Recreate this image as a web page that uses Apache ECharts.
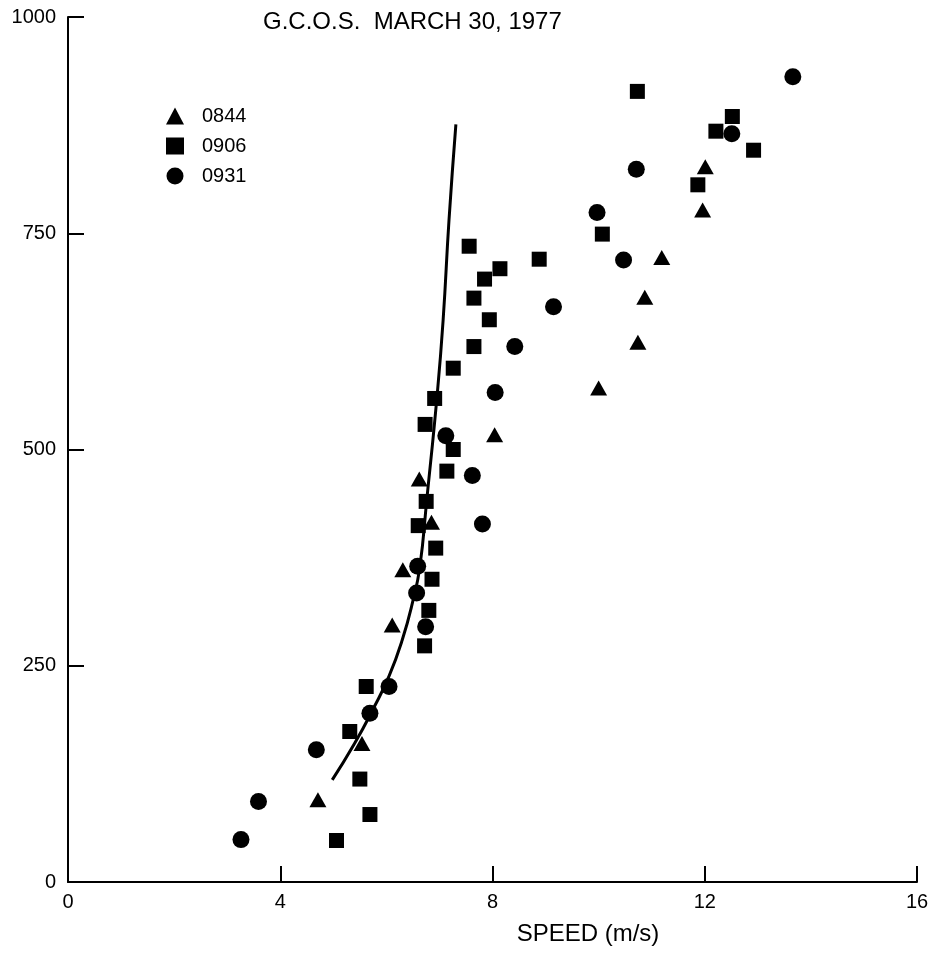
<!DOCTYPE html>
<html><head><meta charset="utf-8">
<script src="https://cdn.jsdelivr.net/npm/echarts@6/dist/echarts.min.js"></script>
<style>html,body{margin:0;padding:0;background:#fff}#c{width:932px;height:954px}</style>
</head><body><div id="c"></div>
<script>
const titleText = 'G.C.O.S.  MARCH 30, 1977';
const xAxisName = 'SPEED (m/s)';
const seriesNames = ['0844', '0906', '0931'];
const xTicks = [0, 4, 8, 12, 16];
const yTicks = [0, 250, 500, 750, 1000];

// 0844 (triangles): [speed m/s, height]
const s0844 = [[4.71,95],[5.54,160],[6.11,297],[6.31,361],[6.62,466],[6.85,416],[8.04,517],
  [10.0,571],[10.74,624],[10.87,676],[11.19,722],[11.96,777],[12.01,827]];
// 0906 (squares)
const s0906 = [[5.06,48],[5.50,119],[5.69,78],[5.31,174],[5.62,226],[6.72,273],[6.80,314],
  [6.86,350],[6.93,386],[6.60,412],[6.75,440],[7.14,475],[7.26,500],[6.73,529],[6.91,559],
  [7.26,594],[7.65,619],[7.94,650],[7.65,675],[7.85,697],[8.14,709],[7.56,735],[8.88,720],
  [10.07,749],[11.87,806],[10.73,914],[12.21,868],[12.52,885],[12.92,846]];
// 0931 (circles)
const s0931 = [[3.26,49],[3.59,93],[4.68,153],[5.69,195],[6.05,226],[6.74,295],[6.57,334],
  [6.59,365],[7.81,414],[7.62,470],[7.12,516],[8.05,566],[8.42,619],[9.15,665],[10.47,719],
  [9.97,774],[10.71,824],[12.51,865],[13.66,931]];
// fitted profile curve
const fitCurve = [[4.98,118],[5.4,160],[5.75,200],[6.05,238],[6.3,280],[6.5,325],[6.63,364],
  [6.76,441],[6.96,565],[7.07,650],[7.18,765],[7.31,876]];

const FONT = "'Liberation Sans', Arial, sans-serif";
const chart = echarts.init(document.getElementById('c'), null, {renderer:'canvas'});
chart.setOption({
  backgroundColor: '#fff',
  animation: false,
  title: {
    text: titleText, left: 258, top: 5,
    textStyle: {fontFamily: FONT, fontSize: 24, fontWeight: 'normal', color: '#000'}
  },
  legend: {
    orient: 'vertical', left: 161, top: 101,
    itemWidth: 18, itemHeight: 17, itemGap: 10,
    textStyle: {fontFamily: FONT, fontSize: 20, color: '#000', padding: [0,0,0,13]},
    data: [
      {name: seriesNames[0], icon: 'triangle'},
      {name: seriesNames[1], icon: 'rect'},
      {name: seriesNames[2], icon: 'circle'}
    ]
  },
  grid: {left: 68, right: 15, top: 17, bottom: 72, containLabel: false},
  xAxis: {
    type: 'value', min: xTicks[0], max: xTicks[xTicks.length-1], interval: 4,
    name: xAxisName, nameLocation: 'middle', nameGap: 40,
    nameTextStyle: {fontFamily: FONT, fontSize: 24, color: '#000', padding: [0,0,0,191]},
    axisLine: {show: true, lineStyle: {color: '#000', width: 2}},
    axisTick: {show: true, inside: true, length: 16, lineStyle: {color: '#000', width: 2}},
    axisLabel: {fontFamily: FONT, fontSize: 20, color: '#000', margin: 10,
      formatter: v => String(v)},
    splitLine: {show: false}
  },
  yAxis: {
    type: 'value', min: yTicks[0], max: yTicks[yTicks.length-1], interval: 250,
    axisLine: {show: true, lineStyle: {color: '#000', width: 2}},
    axisTick: {show: true, inside: true, length: 16, lineStyle: {color: '#000', width: 2}},
    axisLabel: {fontFamily: FONT, fontSize: 20, color: '#000', margin: 12,
      formatter: v => String(v)},
    splitLine: {show: false}
  },
  series: [
    {name: seriesNames[0], type: 'scatter', data: s0844, symbol: 'triangle', symbolSize: [17,15],
     itemStyle: {color: '#000', opacity: 1}, z: 3},
    {name: seriesNames[1], type: 'scatter', data: s0906, symbol: 'rect', symbolSize: 15,
     itemStyle: {color: '#000', opacity: 1}, z: 3},
    {name: seriesNames[2], type: 'scatter', data: s0931, symbol: 'circle', symbolSize: 17,
     itemStyle: {color: '#000', opacity: 1}, z: 3},
    {name: 'fit', type: 'line', data: fitCurve, smooth: true, showSymbol: false, symbol: 'none',
     lineStyle: {color: '#000', width: 3}, silent: true, z: 2}
  ]
});
</script>
</body></html>
